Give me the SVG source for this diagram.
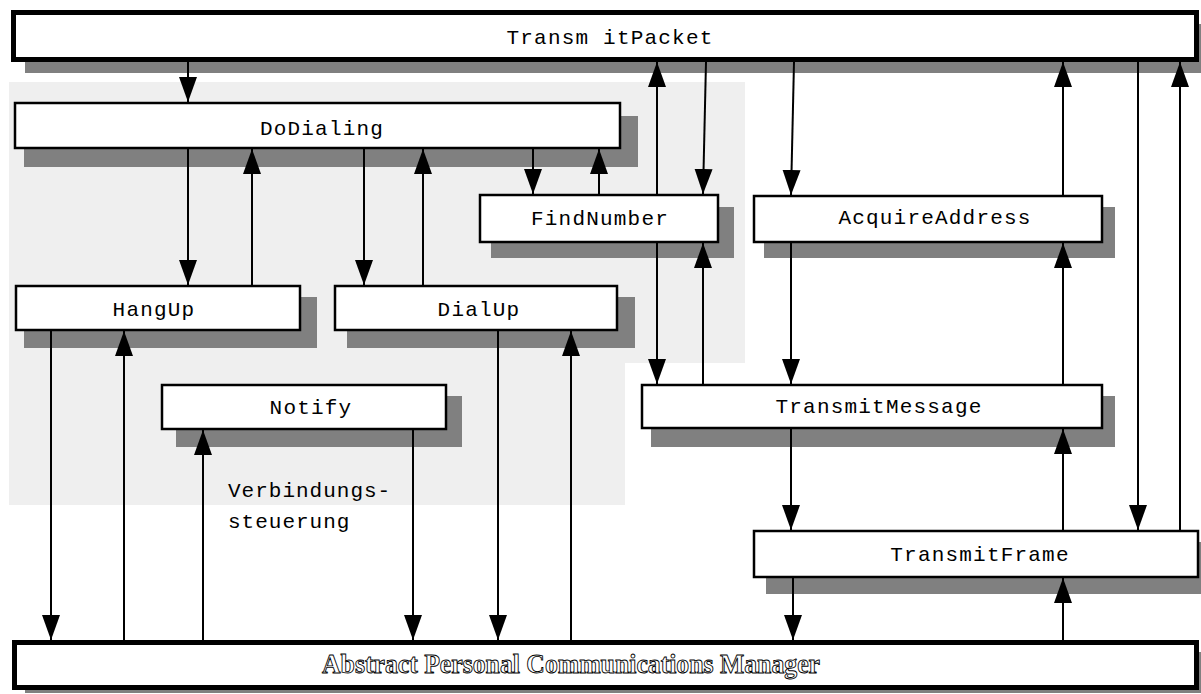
<svg xmlns="http://www.w3.org/2000/svg" width="1201" height="694" viewBox="0 0 1201 694">
  <style>
    .shadow { fill: #808080; }
    .box { fill: #ffffff; stroke: #000000; stroke-width: 2.5; }
    .bar { fill: #ffffff; stroke: #000000; stroke-width: 5; }
    .label { font-family: "Liberation Mono", "Courier New", monospace; font-size: 21px; letter-spacing: 1.2px; fill: #000000; text-anchor: middle; }
    .note { font-family: "Liberation Mono", "Courier New", monospace; font-size: 21px; letter-spacing: 1px; fill: #000000; }
    .outline { font-family: "Liberation Serif", "Times New Roman", serif; font-size: 27px; font-weight: bold; fill: #ffffff; stroke: #000000; stroke-width: 0.9; }
    .conn line { stroke: #000000; stroke-width: 2; fill: none; marker-end: url(#arrow); }
  </style>
  <defs>
    <marker id="arrow" markerUnits="userSpaceOnUse" markerWidth="27" markerHeight="20" refX="25" refY="9" orient="auto">
      <path d="M0,0 L25,9 L0,18 Z" fill="#000000"/>
    </marker>
  </defs>

  <rect width="1201" height="694" fill="#ffffff"/>

  <!-- connection control area -->
  <g id="area-verbindungssteuerung">
    <polygon points="9,82 745,82 745,363 625,363 625,505 9,505" fill="#efefef"/>
    <text class="note" x="228" y="497">Verbindungs-</text>
    <text class="note" x="228" y="528">steuerung</text>
  </g>

  <g id="transmit-packet">
    <rect class="shadow" x="25" y="24" width="1176" height="49"/>
    <rect class="bar" x="13.5" y="12.5" width="1183" height="47"/>
    <text class="label" x="610" y="44">Transm itPacket</text>
  </g>

  <g id="do-dialing">
    <rect class="shadow" x="24" y="116" width="614" height="51"/>
    <rect class="box" x="15" y="103" width="605" height="45"/>
    <text class="label" x="322" y="135">DoDialing</text>
  </g>

  <g id="find-number">
    <rect class="shadow" x="491" y="207" width="243" height="51"/>
    <rect class="box" x="480" y="195" width="238" height="47"/>
    <text class="label" x="600" y="225">FindNumber</text>
  </g>

  <g id="acquire-address">
    <rect class="shadow" x="764" y="207" width="351" height="51"/>
    <rect class="box" x="754" y="196" width="348" height="46"/>
    <text class="label" x="935" y="224">AcquireAddress</text>
  </g>

  <g id="hang-up">
    <rect class="shadow" x="24" y="297" width="293" height="51"/>
    <rect class="box" x="16" y="286" width="284" height="44"/>
    <text class="label" x="154" y="316">HangUp</text>
  </g>

  <g id="dial-up">
    <rect class="shadow" x="347" y="297" width="288" height="51"/>
    <rect class="box" x="335" y="286" width="282" height="44"/>
    <text class="label" x="479" y="316">DialUp</text>
  </g>

  <g id="notify">
    <rect class="shadow" x="176" y="396" width="286" height="51"/>
    <rect class="box" x="162" y="385" width="284" height="44"/>
    <text class="label" x="311" y="414">Notify</text>
  </g>

  <g id="transmit-message">
    <rect class="shadow" x="651" y="396" width="464" height="51"/>
    <rect class="box" x="642" y="385" width="460" height="43"/>
    <text class="label" x="879" y="413">TransmitMessage</text>
  </g>

  <g id="transmit-frame">
    <rect class="shadow" x="766" y="542" width="435" height="52"/>
    <rect class="box" x="754" y="531" width="444" height="46"/>
    <text class="label" x="980" y="561">TransmitFrame</text>
  </g>

  <g id="personal-communications-manager">
    <rect class="shadow" x="25" y="652" width="1176" height="41"/>
    <rect class="bar" x="14.5" y="642.5" width="1182" height="45"/>
    <text class="outline" x="322" y="673" textLength="498" lengthAdjust="spacingAndGlyphs">Abstract Personal Communications Manager</text>
  </g>

  <g id="connectors" class="conn">
    <!-- TransmitPacket links -->
    <line x1="188" y1="62" x2="188" y2="102"/>
    <line x1="657" y1="194" x2="657" y2="62"/>
    <line x1="706" y1="62" x2="703" y2="194"/>
    <line x1="794" y1="62" x2="791" y2="195"/>
    <line x1="1063" y1="195" x2="1063" y2="62"/>
    <line x1="1138" y1="62" x2="1138" y2="530"/>
    <line x1="1180" y1="530" x2="1180" y2="62"/>
    <!-- DoDialing links -->
    <line x1="188" y1="149" x2="188" y2="285"/>
    <line x1="252" y1="285" x2="252" y2="149"/>
    <line x1="364" y1="149" x2="364" y2="285"/>
    <line x1="423" y1="285" x2="423" y2="149"/>
    <line x1="533" y1="149" x2="533" y2="194"/>
    <line x1="599" y1="194" x2="599" y2="149"/>
    <!-- FindNumber / AcquireAddress to TransmitMessage -->
    <line x1="657" y1="243" x2="657" y2="384"/>
    <line x1="703" y1="384" x2="703" y2="243"/>
    <line x1="791" y1="243" x2="791" y2="384"/>
    <line x1="1063" y1="384" x2="1063" y2="243"/>
    <!-- TransmitMessage to TransmitFrame -->
    <line x1="791" y1="429" x2="791" y2="530"/>
    <line x1="1063" y1="530" x2="1063" y2="429"/>
    <!-- links to the communications manager -->
    <line x1="793" y1="578" x2="793" y2="640"/>
    <line x1="1063" y1="640" x2="1063" y2="578"/>
    <line x1="51" y1="331" x2="51" y2="640"/>
    <line x1="124" y1="640" x2="124" y2="331"/>
    <line x1="203" y1="640" x2="203" y2="430"/>
    <line x1="413" y1="430" x2="413" y2="640"/>
    <line x1="498" y1="331" x2="498" y2="640"/>
    <line x1="571" y1="640" x2="571" y2="331"/>
  </g>
</svg>
